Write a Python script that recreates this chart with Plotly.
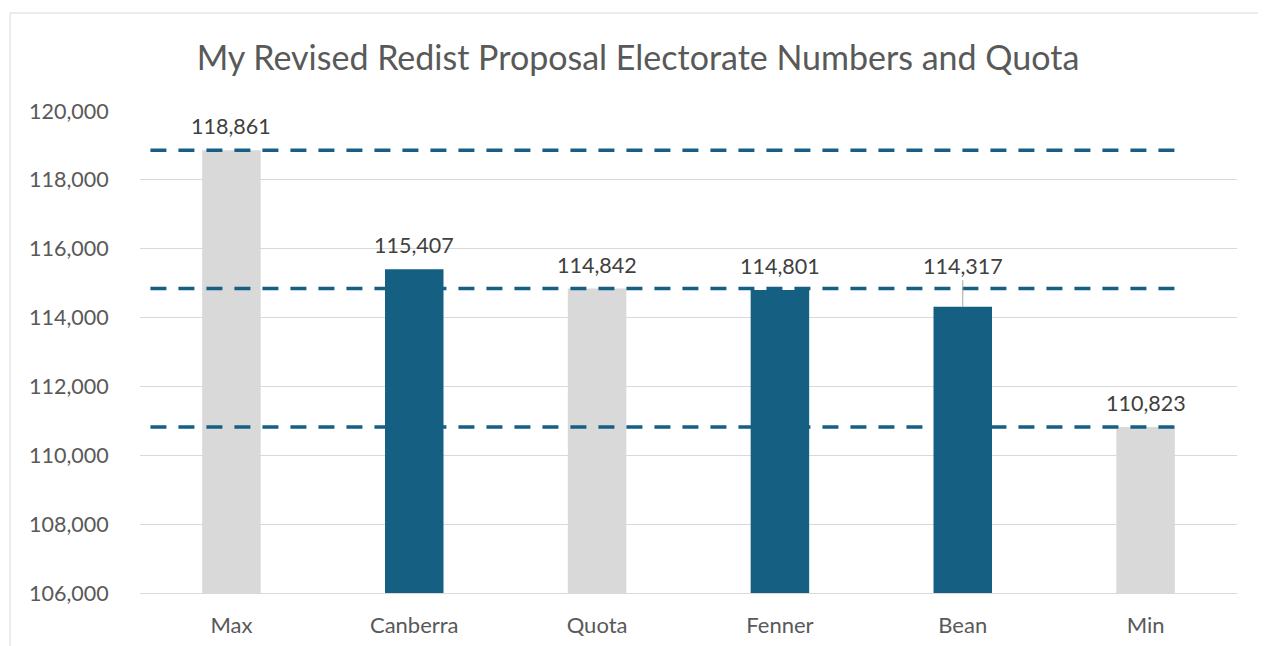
import plotly.graph_objects as go

categories = ["Max", "Canberra", "Quota", "Fenner", "Bean", "Min"]
values = [118861, 115407, 114842, 114801, 114317, 110823]
bar_colors = ["#D9D9D9", "#156082", "#D9D9D9", "#156082", "#156082", "#D9D9D9"]
label_text = ["118,861", "115,407", "114,842", "114,801", "114,317", "110,823"]
reference_lines = [118861, 114842, 110823]
y_ticks = [106000, 108000, 110000, 112000, 114000, 116000, 118000, 120000]
y_tick_labels = ["106,000", "108,000", "110,000", "112,000", "114,000", "116,000", "118,000", "120,000"]

FONT = "Lato"
OFF = 8  # page body margin
W, H = 1266, 646
L, T = 140 - OFF, 111 - OFF
PW, PH = 1097, 482
R = W - L - PW
B = H - T - PH

fig = go.Figure()
fig.add_trace(go.Bar(
    x=categories, y=values, marker=dict(color=bar_colors, line=dict(width=0)),
    width=0.32, hoverinfo="x+y", showlegend=False,
))

for v in reference_lines:
    fig.add_shape(type="line", xref="x", yref="y", x0=-0.443, x1=5.16, y0=v, y1=v,
                  line=dict(color="#156082", width=3.5, dash="16px,12px"), layer="above")

annotations = []
for c, v, t in zip(categories, values, label_text):
    if c == "Bean":
        annotations.append(dict(x=c, y=v, xref="x", yref="y", text=t, showarrow=True,
                                arrowhead=0, arrowwidth=1, arrowcolor="#A6A6A6", ax=0, ay=-41,
                                standoff=0, font=dict(family=FONT, size=21.5, color="#404040")))
    else:
        annotations.append(dict(x=c, y=v, xref="x", yref="y", text=t, showarrow=False,
                                yanchor="middle", yshift=24,
                                font=dict(family=FONT, size=21.5, color="#404040")))

fig.update_layout(
    width=W, height=H,
    margin=dict(l=L, r=R, t=T, b=B),
    paper_bgcolor="white", plot_bgcolor="white",
    title=dict(text="My Revised Redist Proposal Electorate Numbers and Quota",
               x=(638 - 140) / PW, xref="paper", xanchor="center",
               y=1 - (58 - OFF) / H, yanchor="middle",
               font=dict(family=FONT, size=34, color="#595959")),
    annotations=annotations,
    xaxis=dict(type="category", showgrid=False, showline=True, linecolor="#D9D9D9", linewidth=1,
               ticks="outside", ticklen=13, tickcolor="rgba(0,0,0,0)",
               tickfont=dict(family=FONT, size=22, color="#595959"), range=[-0.5, 5.5]),
    yaxis=dict(range=[106000, 120000], tickvals=y_ticks, ticktext=y_tick_labels,
               showgrid=True, gridcolor="#D9D9D9", gridwidth=1, zeroline=False, showline=False,
               ticks="outside", ticklen=26, tickcolor="rgba(0,0,0,0)",
               tickfont=dict(family=FONT, size=21.5, color="#595959")),
)

fig.add_shape(type="rect", xref="paper", yref="paper",
              x0=(10 - 140) / PW, x1=(1262 - 140) / PW,
              y0=(593 - 680) / PH, y1=(593 - 13) / PH,
              line=dict(color="#D9D9D9", width=1), fillcolor="rgba(0,0,0,0)", layer="below")

fig.write_html("out.html")
